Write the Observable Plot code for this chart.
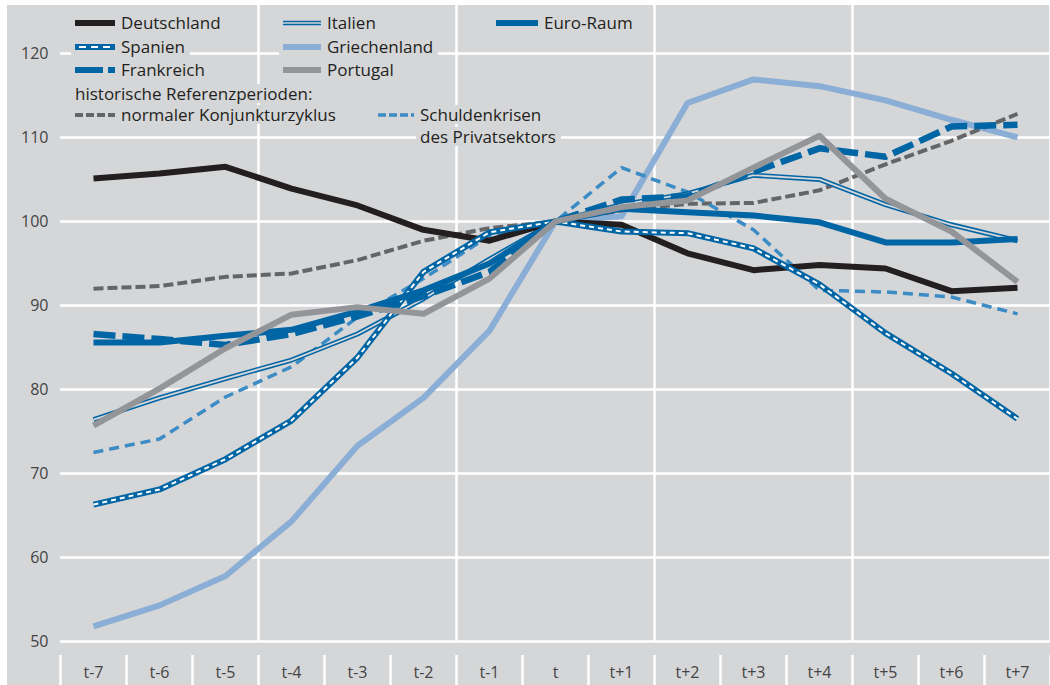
<!DOCTYPE html>
<html>
<head>
<meta charset="utf-8">
<script src="https://cdn.jsdelivr.net/npm/d3@7"></script>
<script src="https://cdn.jsdelivr.net/npm/@observablehq/plot@0.6"></script>
<style>
  html, body { margin: 0; padding: 0; background: #ffffff; }
  #wrap { position: relative; width: 1050px; height: 685px; overflow: hidden; }
  #bg { position: absolute; left: 7px; top: 5px; right: 0; bottom: 0; background: #d5d6d8; }
  #chart { position: absolute; left: 0; top: 0; }
  .lg { position: absolute; display: flex; align-items: center; background: #d5d6d8; padding: 0 5px 0 4px;
        font-family: "Open Sans", "Noto Sans", sans-serif; font-size: 17px; color: #231f20; line-height: 19px; white-space: nowrap; }
  .lg svg { margin-right: 6px; flex: none; }
  .lg span { display: inline-block; line-height: 19px; height: 19px; }
</style>
</head>
<body>
<div id="wrap">
  <div id="bg"></div>
  <div id="chart"></div>
  <div id="legend"></div>
</div>
<script>
// ---- data ----
const categories = ["t-7","t-6","t-5","t-4","t-3","t-2","t-1","t","t+1","t+2","t+3","t+4","t+5","t+6","t+7"];
const yTicks = [50, 60, 70, 80, 90, 100, 110, 120];

const deutschland  = [105.1,105.7,106.5,103.9,101.9, 99.0, 97.7,100, 99.6, 96.2, 94.2, 94.8, 94.4, 91.7, 92.1];
const euroRaum     = [ 85.6, 85.6, 86.4, 87.1, 89.3, 91.8, 95.0,100,101.5,101.1,100.7, 99.9, 97.5, 97.5, 97.9];
const frankreich   = [ 86.6, 86.0, 85.3, 86.6, 88.7, 91.1, 94.0,100,102.6,103.0,105.9,108.7,107.7,111.3,111.5];
const spanien      = [ 66.3, 68.1, 71.7, 76.3, 83.8, 94.0, 98.7,100, 98.8, 98.6, 96.8, 92.5, 86.7, 81.9, 76.5];
const italien      = [ 76.4, 79.0, 81.3, 83.5, 86.6, 90.8, 95.5,100,102.0,103.3,105.5,105.0,102.0, 99.6, 97.7];
const griechenland = [ 51.8, 54.3, 57.8, 64.3, 73.3, 79.0, 87.0,100,100.6,114.1,116.9,116.1,114.4,112.1,110.0];
const portugal     = [ 75.7, 80.1, 84.9, 88.9, 89.8, 89.0, 93.2,100,101.7,102.5,106.4,110.2,102.7, 98.8, 92.8];
const normalZyklus = [ 92.0, 92.3, 93.4, 93.8, 95.4, 97.7, 99.2,100,101.3,102.1,102.2,103.7,106.8,109.6,112.8];
const schuldenkrisen=[ 72.5, 74.1, 79.1, 82.7, 88.6, 93.2, 98.3,100,106.4,103.5, 99.0, 91.8, 91.6, 91.0, 89.0];

const BG = "#d5d6d8";
const BLUE = "#0065a4";
const C = {
  de: "#231f20", eu: BLUE, fr: BLUE, es: BLUE, it: BLUE,
  gr: "#8aaed6", pt: "#939598", nz: "#646567", sk: "#3b8bc5"
};

const rows = arr => arr.map((v, i) => ({i, v}));
const bounds = d3.range(-0.5, 15, 1);          // category boundaries
const majorBounds = [2.5, 5.5, 8.5, 11.5, 14.5];  // every third boundary
const font = '"Open Sans", "Noto Sans", sans-serif';

const line = (arr, opts) => Plot.line(rows(arr), {x: "i", y: "v", strokeLinejoin: "round", strokeLinecap: "butt", ...opts});

const chart = Plot.plot({
  width: 1050,
  height: 685,
  marginLeft: 60,
  marginRight: 0,
  marginTop: 5,
  marginBottom: 44,
  style: {background: "transparent", fontFamily: font, overflow: "visible"},
  x: {type: "linear", domain: [-0.5, 14.5], axis: null},
  y: {domain: [50, 125.7], axis: null},
  marks: [
    Plot.gridY(yTicks, {stroke: "white", strokeOpacity: 1, strokeWidth: 2.5}),
    Plot.ruleX(majorBounds, {stroke: "white", strokeOpacity: 1, strokeWidth: 2.5}),
    Plot.ruleX(bounds, {x: d => d, y1: 50, y2: 44.76, insetTop: 14, stroke: "white", strokeWidth: 2.5}),
    Plot.axisY(yTicks, {label: null, tickSize: 0, tickPadding: 12, fontSize: 16, fill: "#444", fontFamily: font}),
    Plot.axisX(d3.range(15), {label: null, tickSize: 0, tickPadding: 25, fontSize: 16, fill: "#444", fontFamily: font, tickFormat: i => categories[i]}),
    // series (bottom to top)
    line(griechenland, {stroke: C.gr, strokeWidth: 6}),
    line(normalZyklus, {stroke: C.nz, strokeWidth: 4, strokeDasharray: "10,4"}),
    line(schuldenkrisen, {stroke: C.sk, strokeWidth: 3.5, strokeDasharray: "10,6"}),
    line(italien, {stroke: C.it, strokeWidth: 5}),
    line(italien, {stroke: BG, strokeWidth: 1.8}),
    line(deutschland, {stroke: C.de, strokeWidth: 6}),
    line(spanien, {stroke: C.es, strokeWidth: 6}),
    line(spanien, {stroke: "white", strokeWidth: 2, strokeDasharray: "5,4"}),
    line(frankreich, {stroke: C.fr, strokeWidth: 6.5, strokeDasharray: "22,7"}),
    line(euroRaum, {stroke: C.eu, strokeWidth: 6}),
    line(portugal, {stroke: C.pt, strokeWidth: 6})
  ]
});
document.getElementById("chart").appendChild(chart);

// ---- legend ----
const sw = {
  de: `<rect x="0" y="2" width="40" height="6" fill="${C.de}"/>`,
  es: `<rect x="0" y="2" width="40" height="6" fill="${C.es}"/><line x1="4" x2="36" y1="5" y2="5" stroke="white" stroke-width="2" stroke-dasharray="7,5"/>`,
  fr: `<rect x="0" y="2" width="28" height="6" fill="${C.fr}"/><rect x="33" y="2" width="7" height="6" fill="${C.fr}"/>`,
  it: `<line x1="0" x2="38" y1="3.5" y2="3.5" stroke="${C.it}" stroke-width="1.4"/><line x1="0" x2="38" y1="6.5" y2="6.5" stroke="${C.it}" stroke-width="1.4"/>`,
  gr: `<rect x="0" y="2" width="38" height="6" fill="${C.gr}"/>`,
  pt: `<rect x="0" y="2" width="38" height="6" fill="${C.pt}"/>`,
  eu: `<rect x="0" y="2" width="42" height="6" fill="${C.eu}"/>`,
  nz: `<line x1="0" x2="40" y1="5" y2="5" stroke="${C.nz}" stroke-width="4" stroke-dasharray="8,3"/>`,
  sk: `<line x1="0" x2="36" y1="5" y2="5" stroke="${C.sk}" stroke-width="3.5" stroke-dasharray="8,3"/>`
};
const legendItems = [
  {k: "de", label: "Deutschland", left: 71, top: 13, w: 40},
  {k: "es", label: "Spanien", left: 71, top: 37, w: 40},
  {k: "fr", label: "Frankreich", left: 71, top: 60, w: 40},
  {k: "it", label: "Italien", left: 279, top: 13, w: 38},
  {k: "gr", label: "Griechenland", left: 279, top: 37, w: 38},
  {k: "pt", label: "Portugal", left: 279, top: 60, w: 38},
  {k: "eu", label: "Euro-Raum", left: 492, top: 13, w: 42},
  {k: null, label: "historische Referenzperioden:", left: 71, top: 84},
  {k: "nz", label: "normaler Konjunkturzyklus", left: 71, top: 105, w: 40},
  {k: "sk", label: "Schuldenkrisen", left: 374, top: 105, w: 36},
  {k: null, label: "des Privatsektors", left: 416, top: 126.5}
];
const lg = document.getElementById("legend");
for (const it of legendItems) {
  const d = document.createElement("div");
  d.className = "lg";
  d.style.left = it.left + "px";
  d.style.top = it.top + "px";
  const s = it.k ? `<svg width="${it.w}" height="10">${sw[it.k]}</svg>` : "";
  d.innerHTML = s + `<span>${it.label}</span>`;
  lg.appendChild(d);
}
</script>
</body>
</html>
